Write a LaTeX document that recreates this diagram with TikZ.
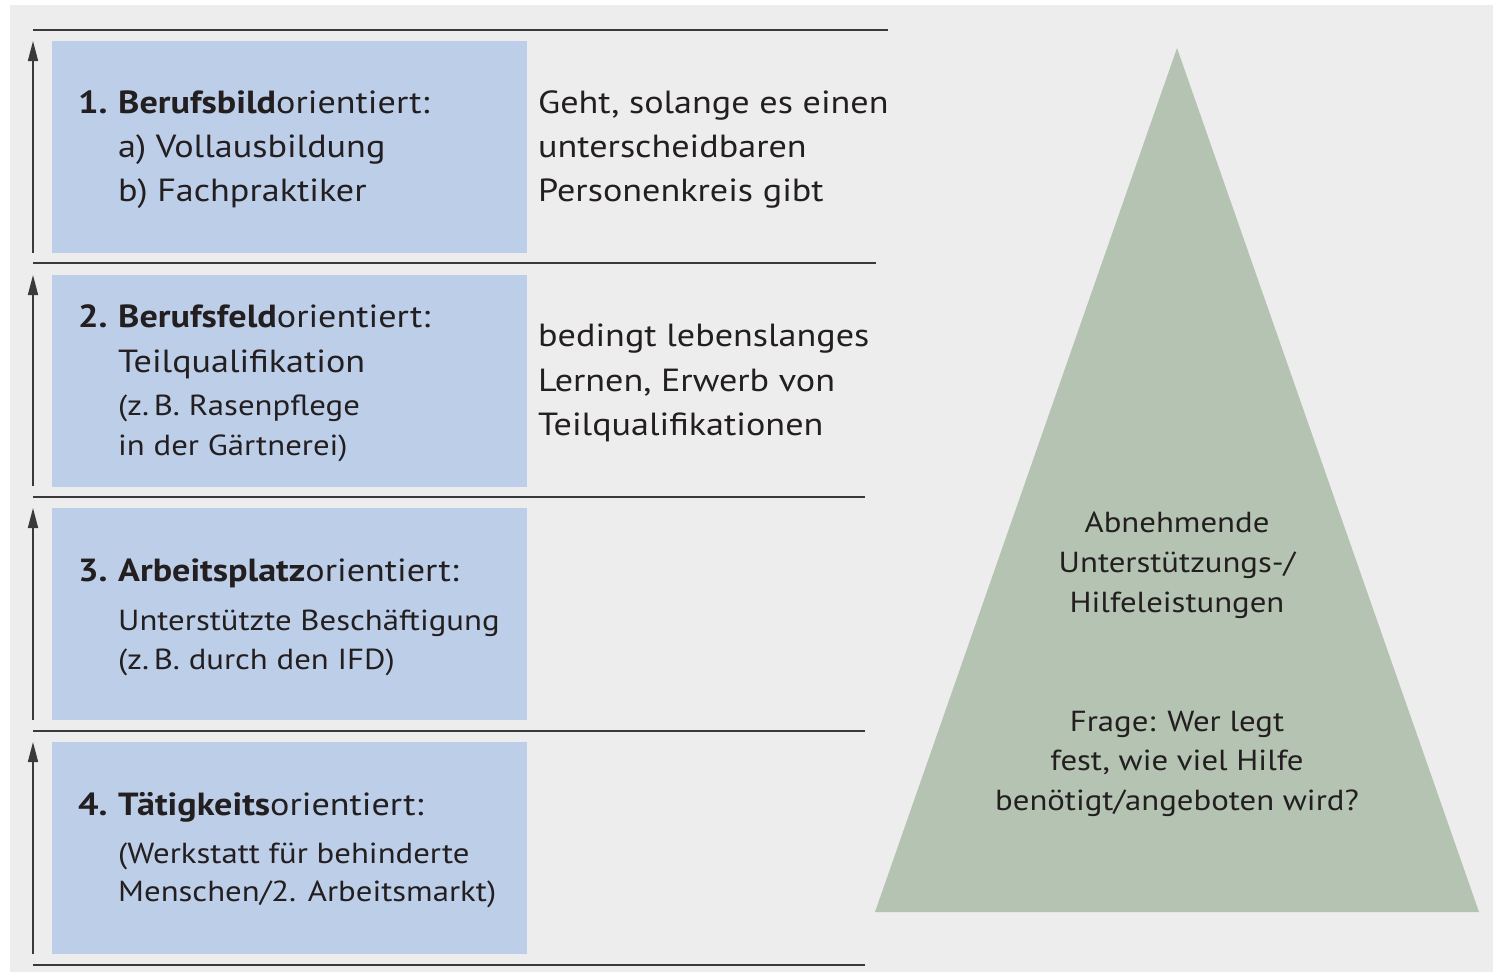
\documentclass[tikz,border=0pt]{standalone}
\usepackage{fontspec}
\setmainfont{PT Sans}[FakeStretch=1.13]
\usetikzlibrary{arrows.meta}
\definecolor{bg}{HTML}{EDEDED}
\definecolor{boxblue}{HTML}{BDCEE9}
\definecolor{trigreen}{HTML}{B5C3B2}
\definecolor{ink}{HTML}{231F20}
\definecolor{rulec}{HTML}{3A3A3A}
\tikzset{
  bbox/.style={fill=boxblue, draw=none, minimum width=475pt, minimum height=212pt, anchor=north west, inner sep=0pt},
  sepline/.style={draw=rulec, line width=1.6pt},
  uparrow/.style={draw=rulec, line width=1.6pt, -{Stealth[length=20pt,width=10pt,inset=0pt]}},
  big/.style={font=\fontsize{32}{38}\selectfont, text=ink, anchor=base west, inner sep=0pt},
  small/.style={font=\fontsize{29}{34}\selectfont, text=ink, anchor=base west, inner sep=0pt},
  tri/.style={font=\fontsize{29}{34}\selectfont, text=ink, anchor=base, inner sep=0pt},
}
\begin{document}
\begin{tikzpicture}[x=1pt,y=-1pt]
\useasboundingbox (0,0) rectangle (1493,972);
\fill[white] (0,0) rectangle (1493,972);
\fill[bg] (10,5) rectangle (1493,972);

% separator lines
\draw[sepline] (33,30) -- (888,30);
\draw[sepline] (33,263) -- (876,263);
\draw[sepline] (33,497) -- (865,497);
\draw[sepline] (33,731) -- (865,731);
\draw[sepline] (33,965) -- (865,965);

% boxes
\node[bbox] (box1) at (52,41) {};
\node[bbox] (box2) at (52,275) {};
\node[bbox] (box3) at (52,508) {};
\node[bbox] (box4) at (52,742) {};

% arrows
\coordinate (a1s) at (33,253); \coordinate (a1e) at (33,41);
\coordinate (a2s) at (33,486); \coordinate (a2e) at (33,275);
\coordinate (a3s) at (33,720); \coordinate (a3e) at (33,508);
\coordinate (a4s) at (33,954); \coordinate (a4e) at (33,742);
\draw[uparrow] (a1s) -- (a1e);
\draw[uparrow] (a2s) -- (a2e);
\draw[uparrow] (a3s) -- (a3e);
\draw[uparrow] (a4s) -- (a4e);

% box 1
\node[big] (n1) at (78,113) {\bfseries 1.};
\node[big] (h1) at (118,113) {\textbf{Berufsbild}orientiert:};
\node[big] (l1a) at (118,157) {a) Vollausbildung};
\node[big] (l1b) at (118,201) {b) Fachpraktiker};

% box 2
\node[big] (n2) at (78,327) {\bfseries 2.};
\node[big] (h2) at (118,327) {\textbf{Berufsfeld}orientiert:};
\node[big] (l2a) at (118,372) {Teilqualifikation};
\node[small] (l2b) at (118,415) {(z.\,B. Rasenpflege};
\node[small] (l2c) at (118,455) {in der Gärtnerei)};

% box 3
\node[big] (n3) at (78,581) {\bfseries 3.};
\node[big] (h3) at (118,581) {\textbf{Arbeitsplatz}orientiert:};
\node[small] (l3a) at (118,630) {Unterstützte Beschäftigung};
\node[small] (l3b) at (118,669) {(z.\,B. durch den IFD)};

% box 4
\node[big] (n4) at (78,815) {\bfseries 4.};
\node[big] (h4) at (118,815) {\textbf{Tätigkeits}orientiert:};
\node[small] (l4a) at (118,863) {(Werkstatt für behinderte};
\node[small] (l4b) at (118,901) {Menschen/2. Arbeitsmarkt)};

% right texts
\node[big] (r1a) at (538,113) {Geht, solange es einen};
\node[big] (r1b) at (538,157) {unterscheidbaren};
\node[big] (r1c) at (538,201) {Personenkreis gibt};
\node[big] (r2a) at (538,346) {bedingt lebenslanges};
\node[big] (r2b) at (538,391) {Lernen, Erwerb von};
\node[big] (r2c) at (538,435) {Teilqualifikationen};

% triangle
\fill[trigreen] (1177,48) -- (875,912) -- (1479,912) -- cycle;
\node[tri] (t1) at (1177,532) {Abnehmende};
\node[tri] (t2) at (1177,572) {Unterstützungs-/};
\node[tri] (t3) at (1177,612) {Hilfeleistungen};
\node[tri] (t4) at (1177,731) {Frage: Wer legt};
\node[tri] (t5) at (1177,770) {fest, wie viel Hilfe};
\node[tri] (t6) at (1177,810) {benötigt/angeboten wird?};
\end{tikzpicture}
\end{document}
